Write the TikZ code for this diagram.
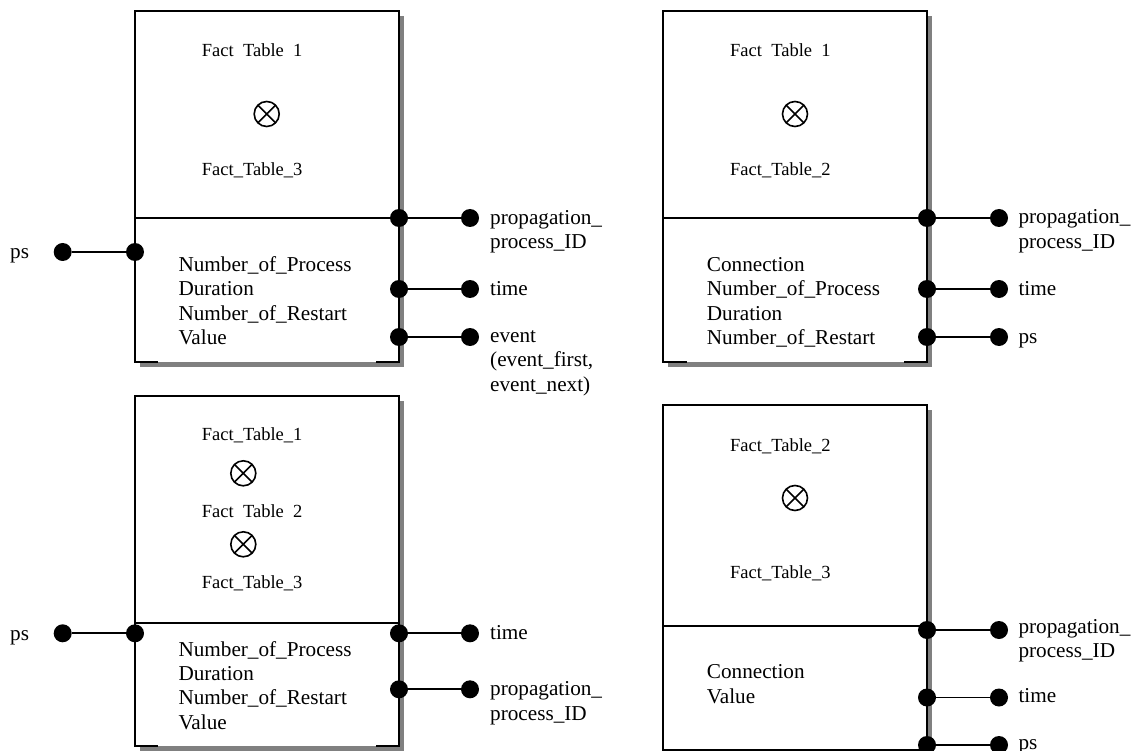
\documentclass[tikz,border=0pt]{standalone}
\usepackage{fontspec}
\setmainfont{Liberation Serif}
\usetikzlibrary{calc,shadows}
\definecolor{shadowgray}{HTML}{808080}

\tikzset{
  tbl/.style={draw=none, fill=white, inner sep=0pt,
    drop shadow={shadow xshift=5pt, shadow yshift=-5pt, fill=shadowgray, opacity=1}},
  edge/.style={line width=2pt, line join=miter},
  wire/.style={line width=1.8pt},
  port/.style={circle, fill=black, inner sep=0pt, minimum size=18pt},
  otimes/.style={circle, draw, line width=1.6pt, inner sep=0pt, minimum size=25pt,
    path picture={\draw[line width=1.6pt]
      (path picture bounding box.north west) -- (path picture bounding box.south east)
      (path picture bounding box.north east) -- (path picture bounding box.south west);}},
  head/.style={font=\fontsize{18.5}{22}\selectfont, anchor=base west, inner sep=0pt},
  body/.style={font=\fontsize{21.2}{24}\selectfont, anchor=base west, inner sep=0pt},
}

\begin{document}
\begin{tikzpicture}[x=1pt, y=-1pt]
\useasboundingbox (0,0) rectangle (1137,751);

% ---------------- table 1 (top left) ----------------
\node[tbl, minimum width=264pt, minimum height=351pt] (b1) at (267,186.5) {};
\node[port] (b1r1) at (399,218) {};
\draw[edge] ($(b1.south west)+(23,0)$) -- (b1.south west) -- (b1.north west)
  -- (b1.north east) -- (b1.south east) -- ++(-23,0);
\draw[edge] (b1.west |- b1r1) -- (b1r1);
\node[head] (b1h1) at (201.7,56.7) {Fact\hspace{0.5em}Table\hspace{0.5em}1};
\node[otimes] (b1x) at (266.7,114) {};
\node[head] (b1h2) at (201.7,176) {Fact\_Table\_3};
\foreach \t [count=\i] in {Number\_of\_Process, Duration, Number\_of\_Restart, Value}
  \node[body] (b1f\i) at (178.3,{271.5+24.3*(\i-1)}) {\t};
% input port on the left
\node[port] (b1l) at (135,252) {};
\node[port] (b1lo) at (62.7,252) {};
\draw[wire] (b1lo) -- (b1l);
\node[body] (b1ll) at (10,258.5) {ps};
% output ports on the right
\node[port] (b1r2) at (399,289) {};
\node[port] (b1r3) at (399,337) {};
\node[port] (b1o1) at (470,218) {};
\node[port] (b1o2) at (470,289) {};
\node[port] (b1o3) at (470,337) {};
\draw[wire] (b1r1) -- (b1o1);
\draw[wire] (b1r2) -- (b1o2);
\draw[wire] (b1r3) -- (b1o3);
\node[body] (b1a1) at (490,224.5) {propagation\_};
\node[body] (b1a2) at (490,249) {process\_ID};
\node[body] (b1a3) at (490,295) {time};
\node[body] (b1a4) at (490,342) {event};
\node[body] (b1a5) at (490,366.5) {(event\_first,};
\node[body] (b1a6) at (490,391) {event\_next)};

% ---------------- table 2 (top right) ----------------
\node[tbl, minimum width=264pt, minimum height=351pt] (b2) at (795,186.5) {};
\node[port] (b2r1) at (927,218) {};
\draw[edge] ($(b2.south west)+(24,0)$) -- (b2.south west) -- (b2.north west)
  -- (b2.north east) -- (b2.south east) -- ++(-23,0);
\draw[edge] (b2.west |- b2r1) -- (b2r1);
\node[head] (b2h1) at (730,56.7) {Fact\hspace{0.5em}Table\hspace{0.5em}1};
\node[otimes] (b2x) at (795,114) {};
\node[head] (b2h2) at (730,176) {Fact\_Table\_2};
\foreach \t [count=\i] in {Connection, Number\_of\_Process, Duration, Number\_of\_Restart}
  \node[body] (b2f\i) at (706.7,{271.5+24.3*(\i-1)}) {\t};
\node[port] (b2r2) at (927,289) {};
\node[port] (b2r3) at (927,337) {};
\node[port] (b2o1) at (999,218) {};
\node[port] (b2o2) at (999,289) {};
\node[port] (b2o3) at (999,337) {};
\draw[wire] (b2r1) -- (b2o1);
\draw[wire] (b2r2) -- (b2o2);
\draw[wire] (b2r3) -- (b2o3);
\node[body] (b2a1) at (1018.3,223.5) {propagation\_};
\node[body] (b2a2) at (1018.3,248.3) {process\_ID};
\node[body] (b2a3) at (1018.3,295) {time};
\node[body] (b2a4) at (1018.3,343) {ps};

% ---------------- table 3 (bottom left) ----------------
\node[tbl, minimum width=264pt, minimum height=350pt] (b3) at (267,570.7) {};
\coordinate (b3d) at (135,622.7);
\draw[edge] ($(b3.south west)+(23,0)$) -- (b3.south west) -- (b3.north west)
  -- (b3.north east) -- (b3.south east) -- ++(-23,0);
\draw[edge] (b3d) -- (b3d -| b3.east);
\node[head] (b3h1) at (201.7,440) {Fact\_Table\_1};
\node[otimes] (b3x1) at (243.3,473.3) {};
\node[head] (b3h2) at (201.7,517) {Fact\hspace{0.5em}Table\hspace{0.5em}2};
\node[otimes] (b3x2) at (243.3,544.3) {};
\node[head] (b3h3) at (201.7,588.3) {Fact\_Table\_3};
\foreach \t [count=\i] in {Number\_of\_Process, Duration, Number\_of\_Restart, Value}
  \node[body] (b3f\i) at (178.3,{656.7+24.1*(\i-1)}) {\t};
\node[port] (b3l) at (135,633.3) {};
\node[port] (b3lo) at (62.7,633.3) {};
\draw[wire] (b3lo) -- (b3l);
\node[body] (b3ll) at (10,640) {ps};
\node[port] (b3r1) at (399,633.3) {};
\node[port] (b3r2) at (399,689.3) {};
\node[port] (b3o1) at (470,633.3) {};
\node[port] (b3o2) at (470,689.3) {};
\draw[wire] (b3r1) -- (b3o1);
\draw[wire] (b3r2) -- (b3o2);
\node[body] (b3a1) at (490,639.5) {time};
\node[body] (b3a2) at (490,695.5) {propagation\_};
\node[body] (b3a3) at (490,720) {process\_ID};

% ---------------- table 4 (bottom right) ----------------
\node[tbl, minimum width=264pt, minimum height=344.5pt] (b4) at (795,577.25) {};
\coordinate (b4d) at (663,626);
\draw[edge] (b4.south west) rectangle (b4.north east);
\draw[edge] (b4d) -- (b4d -| b4.east);
\node[head] (b4h1) at (730,451.7) {Fact\_Table\_2};
\node[otimes] (b4x) at (795,498) {};
\node[head] (b4h2) at (730,578) {Fact\_Table\_3};
\node[body] (b4f1) at (706.7,678.5) {Connection};
\node[body] (b4f2) at (706.7,703) {Value};
\node[port] (b4r1) at (927,630) {};
\node[port] (b4r2) at (927,697.5) {};
\node[port] (b4r3) at (927,745) {};
\node[port] (b4o1) at (999,630) {};
\node[port] (b4o2) at (999,697.5) {};
\node[port] (b4o3) at (999,745) {};
\draw[wire] (b4r1) -- (b4o1);
\draw[wire] (b4r2) -- (b4o2);
\draw[wire] (b4r3) -- (b4o3);
\node[body] (b4a1) at (1018.3,633) {propagation\_};
\node[body] (b4a2) at (1018.3,657.5) {process\_ID};
\node[body] (b4a3) at (1018.3,702) {time};
\node[body] (b4a4) at (1018.3,749.5) {ps};
\end{tikzpicture}
\end{document}
